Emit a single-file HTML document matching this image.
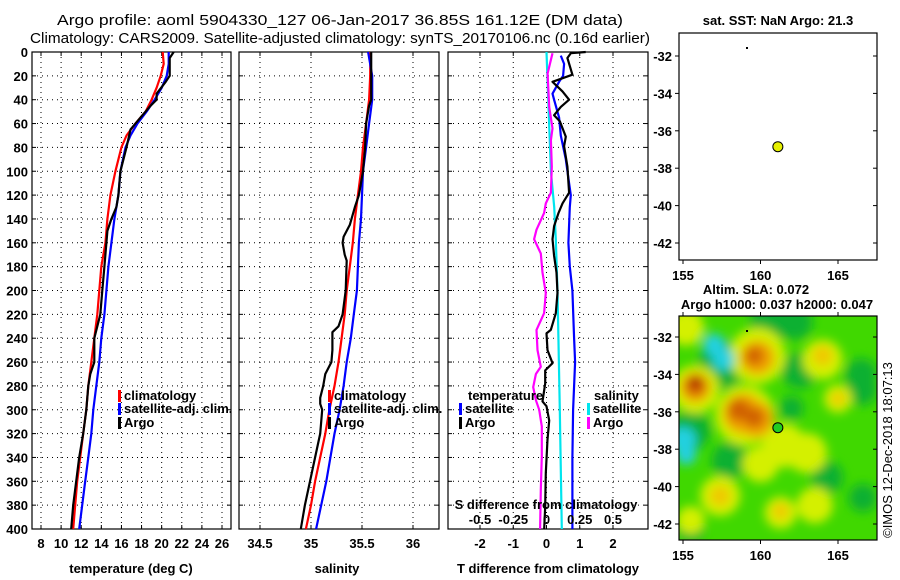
<!DOCTYPE html>
<html><head><meta charset="utf-8">
<style>
html,body{margin:0;padding:0;background:#fff;}
svg{display:block;font-family:"Liberation Sans",sans-serif;}
text{font-weight:bold;font-size:13px;fill:#000;}
</style></head>
<body>
<svg id="fig" width="900" height="580" viewBox="0 0 900 580" xmlns="http://www.w3.org/2000/svg">
<defs>
<filter id="blur" x="-50%" y="-50%" width="200%" height="200%"><feGaussianBlur stdDeviation="5"/></filter>
<clipPath id="map2clip"><rect x="679" y="316" width="198" height="224"/></clipPath>
</defs>
<text x="57" y="25" style="font-weight:normal;font-size:15px" textLength="566" lengthAdjust="spacingAndGlyphs">Argo profile: aoml 5904330_127 06-Jan-2017 36.85S 161.12E (DM data)</text>
<text x="30" y="43" style="font-weight:normal;font-size:15px" textLength="620" lengthAdjust="spacingAndGlyphs">Climatology: CARS2009. Satellite-adjusted climatology: synTS_20170106.nc (0.16d earlier)</text>
<g id="plots"></g>
</svg>
<script>
// ---- data ----
const tDepth = [0,10,20,30,40,50,60,70,80,100,120,140,160,180,200,220,240,260,280,300,320,340,360,380,400];
const tClim  = [20.1,20.2,19.9,19.5,19.0,18.4,17.4,16.5,16.0,15.4,14.9,14.6,14.4,14.0,13.8,13.6,13.3,13.0,12.7,12.5,12.2,11.9,11.6,11.4,11.2];
const tSat   = [20.7,20.7,20.5,20.0,19.3,18.5,17.6,16.9,16.4,15.9,15.7,15.3,15.0,14.7,14.5,14.3,14.0,13.8,13.5,13.2,13.0,12.7,12.4,12.1,11.8];
const argoTDepth = [0,5,20,25,35,40,45,55,65,80,100,120,130,140,150,160,180,200,220,230,240,260,270,280,300,320,340,360,380,400];
const argoT      = [21.2,20.8,20.8,20.4,19.5,19.5,18.9,17.9,16.9,16.5,15.9,15.7,15.5,15.0,14.6,14.5,14.3,14.1,13.9,13.6,13.3,13.3,12.9,12.7,12.5,12.2,11.8,11.5,11.2,11.0];
const sDepth = [0,20,40,60,80,100,120,140,160,180,200,220,240,260,280,300,320,340,360,380,400];
const sClim  = [35.58,35.58,35.57,35.54,35.51,35.49,35.46,35.43,35.41,35.38,35.35,35.33,35.30,35.27,35.23,35.18,35.14,35.09,35.04,35.00,34.95];
const sSat   = [35.56,35.60,35.60,35.57,35.54,35.51,35.50,35.49,35.47,35.46,35.45,35.42,35.39,35.35,35.32,35.28,35.23,35.19,35.15,35.10,35.05];
const argoSDepth = [0,20,40,45,60,80,100,120,130,145,155,160,170,175,200,220,230,235,250,260,270,280,290,295,300,320,340,360,380,400];
const argoS      = [35.59,35.59,35.59,35.57,35.54,35.53,35.51,35.47,35.43,35.38,35.32,35.31,35.33,35.35,35.34,35.31,35.27,35.21,35.21,35.20,35.14,35.12,35.09,35.09,35.11,35.09,35.04,34.99,34.94,34.90];
const dTSatDepth = [3,10,20,25,35,40,55,70,90,110,120,130,160,180,200,240,260,280,300,340,400];
const dTSat      = [0.43,0.53,0.50,0.38,0.18,0.23,0.38,0.43,0.58,0.68,0.73,0.70,0.66,0.70,0.78,0.83,0.86,0.83,0.80,0.78,0.78];
const dTArgoDepth = [0,1,5,19,25,33,40,46,53,58,71,79,96,118,127,135,146,157,171,185,202,219,233,236,250,261,267,278,293,297,309,325,353,381,400];
const dTArgo      = [1.18,0.73,0.63,0.78,0.18,0.48,0.68,0.43,0.23,0.40,0.58,0.53,0.63,0.68,0.48,0.36,0.23,0.18,0.23,0.30,0.33,0.28,0.13,0.00,0.03,0.18,-0.04,-0.04,-0.12,0.00,0.08,0.03,-0.02,-0.04,-0.07];
const dSSatDepth = [0,100,130,157,200,300,400];
const dSSat      = [0.0,0.033,0.058,0.07,0.083,0.10,0.115];
const dSArgoDepth = [1,18,46,64,74,96,118,127,135,149,157,169,185,202,219,233,250,264,270,281,292,300,314,339,367,400];
const dSArgo      = [0.045,0.008,0.02,0.045,0.033,0.04,0.033,-0.005,-0.018,-0.075,-0.093,-0.043,-0.03,-0.005,-0.018,-0.075,-0.068,-0.043,-0.08,-0.10,-0.08,-0.055,-0.035,-0.035,-0.043,-0.048];
const depthTicks = [0,20,40,60,80,100,120,140,160,180,200,220,240,260,280,300,320,340,360,380,400];
const tTicks = [8,10,12,14,16,18,20,22,24,26];
const sTicks = [34.5,35,35.5,36];
const dTTicks = [-2,-1,0,1,2];
const dSTicks = [-0.5,-0.25,0,0.25,0.5];
const lonTicks = [155,160,165];
const latTicks = [-32,-34,-36,-38,-40,-42];
const argoLon = 161.12, argoLat = -36.85;
// SLA field approximated as smooth anomaly blobs (drawn in order)
const blobLon = [157.5,155.5,160.6,162.2,162.5,166.5,166.5,164.3,166.6,158.0,155.5,162.0,
                 155.2,159.8,155.8,159.0,164.0,165.0,161.5,163.0,160.0,157.4,161.3,155.5,163.5,
                 159.8,155.8,158.9,159.7,164.0,165.0,157.4,161.3,
                 159.6,155.8,158.6,159.6,
                 155.8,
                 157.0,157.6,155.0,155.2];
const blobLat = [-33.5,-37.0,-31.2,-31.2,-33.8,-34.0,-34.8,-39.5,-40.6,-38.6,-42.3,-35.8,
                 -31.5,-33.0,-34.8,-36.2,-33.2,-35.3,-37.8,-38.2,-38.8,-40.5,-41.4,-41.8,-41.0,
                 -33.1,-34.7,-36.1,-36.4,-33.0,-35.3,-40.5,-41.3,
                 -33.0,-34.6,-35.9,-36.3,
                 -34.4,
                 -32.4,-33.2,-37.5,-38.3];
const blobLevel = [-1.5,-1.5,-1.5,-1.5,-1.5,-1.5,-1.5,-1.5,-1.5,-1.5,-1.5,-1.5,
                   1,1,1,1,1,1,1,1,1,1,1,1,1,
                   3,3,3,3,2,2,2,2,
                   4,4,4,4,
                   5,
                   -3,-3,-3,-3];
const blobR = [24,20,20,18,18,16,16,16,14,18,14,12,
               18,28,24,30,20,14,22,20,18,20,16,14,18,
               17,15,20,18,10,7,10,8,
               9,10,11,10,
               6,
               11,11,13,10];

// ---- helpers ----
const NS='http://www.w3.org/2000/svg';
const root=document.getElementById('plots');
function mk(tag,attrs,parent){const e=document.createElementNS(NS,tag);for(const k in attrs)e.setAttribute(k,attrs[k]);(parent||root).appendChild(e);return e;}
function txt(x,y,s,anchor,parent){const e=mk('text',{x:x,y:y,'text-anchor':anchor||'middle'},parent);e.textContent=s;return e;}
const Y0=52, Y1=529;
const yD=d=>Y0+(Y1-Y0)*d/400;
function lin(d0,d1,r0,r1){return v=>r0+(v-d0)*(r1-r0)/(d1-d0);}
const xT=lin(8,26,41,222), xS=lin(34.5,36,260,413), xDT=lin(-2,2,480,613), xDS=lin(-0.5,0.5,480,613);
const mLon=lin(155,165,683,838), m1Lat=lin(-32,-42,56,243), m2Lat=lin(-32,-42,337,524);

function panel(name,x0,x1,xticks,xf,labelFmt,leftLabels){
  const g=mk('g',{});
  
  
  depthTicks.forEach(d=>{
    const y=yD(d);
    if(d>0&&d<400){const l=mk('line',{x1:x0,x2:x1,y1:y,y2:y,stroke:'#000','stroke-width':1,'stroke-dasharray':'1,4'},g);
      
      }
    mk('line',{x1:x0,x2:x0+4,y1:y,y2:y,stroke:'#000'},g);
    mk('line',{x1:x1-4,x2:x1,y1:y,y2:y,stroke:'#000'},g);
    if(leftLabels){const t=txt(x0-4,y+5,String(d),'end',g);
      
      }
  });
  xticks.forEach(v=>{
    const x=xf(v);
    const l=mk('line',{x1:x,x2:x,y1:Y0,y2:Y1,stroke:'#000','stroke-width':1,'stroke-dasharray':'1,4'},g);
    
    
    mk('line',{x1:x,x2:x,y1:Y1,y2:Y1-4,stroke:'#000'},g);
    mk('line',{x1:x,x2:x,y1:Y0,y2:Y0+4,stroke:'#000'},g);
    const t=txt(x,Y1+19,labelFmt(v),'middle',g);
    
    
  });
  const r=mk('rect',{x:x0,y:Y0,width:x1-x0,height:Y1-Y0,fill:'none',stroke:'#000','stroke-width':1.2},g);
  
  
  return g;
}
function line(depths,vals,xf,color,name,w){
  const pts=depths.map((d,i)=>xf(vals[i]).toFixed(1)+','+yD(d).toFixed(1)).join(' ');
  const p=mk('polyline',{points:pts,fill:'none',stroke:color,'stroke-width':w||2.2,'stroke-linejoin':'round'});
  
  
}
function legend(x,y,color,label,name){
  const g=mk('g',{});
  
  
  mk('rect',{x:x,y:y-10,width:3,height:12,fill:color},g);
  txt(x+6,y,label,'start',g);
}

// Panel 1: temperature
panel('temperature-panel',32,231,tTicks,xT,v=>String(v),true);
line(tDepth,tClim,xT,'#ff0000','temp-climatology-line');
line(tDepth,tSat,xT,'#0000ff','temp-satellite-line');
line(argoTDepth,argoT,xT,'#000','temp-argo-line');
let t=txt(131,573,'temperature (deg C)');


legend(118,400,'#ff0000','climatology','legend-climatology');
legend(118,413,'#0000ff','satellite-adj. clim.','legend-satellite-adj');
legend(118,427,'#000','Argo','legend-argo');

// Panel 2: salinity
panel('salinity-panel',239,439,sTicks,xS,v=>String(v),false);
line(sDepth,sClim,xS,'#ff0000','sal-climatology-line');
line(sDepth,sSat,xS,'#0000ff','sal-satellite-line');
line(argoSDepth,argoS,xS,'#000','sal-argo-line');
t=txt(337,573,'salinity');


legend(328,400,'#ff0000','climatology','legend-climatology-2');
legend(328,413,'#0000ff','satellite-adj. clim.','legend-satellite-adj-2');
legend(328,427,'#000','Argo','legend-argo-2');

// Panel 3: differences
panel('difference-panel',448,648,dTTicks,xDT,v=>String(v),false);
line(dSSatDepth,dSSat,xDS,'#00e5ee','sal-diff-satellite-line');
line(dSArgoDepth,dSArgo,xDS,'#ff00ff','sal-diff-argo-line');
line(dTSatDepth,dTSat,xDT,'#0000ff','temp-diff-satellite-line');
line(dTArgoDepth,dTArgo,xDT,'#000','temp-diff-argo-line');
dSTicks.forEach(v=>{const e=txt(xDS(v),524,String(v));
  
  });
t=txt(546,509,'S difference from climatology');


t=txt(548,573,'T difference from climatology');


t=txt(468,400,'temperature','start');


legend(459,413,'#0000ff','satellite','legend-temp-satellite');
legend(459,427,'#000','Argo','legend-temp-argo');
t=txt(594,400,'salinity','start');


legend(587,413,'#00e5ee','satellite','legend-sal-satellite');
legend(587,427,'#ff00ff','Argo','legend-sal-argo');

// Maps
function mapAxes(name,y0,y1,latF,topTicks){
  const g=mk('g',{});
  
  
  latTicks.forEach(v=>{const y=latF(v);
    mk('line',{x1:679,x2:675,y1:y,y2:y,stroke:'#000'},g);
    mk('line',{x1:877,x2:873,y1:y,y2:y,stroke:'#000'},g);
    const e=txt(672,y+5,String(v),'end',g);
    
    });
  lonTicks.forEach(v=>{const x=mLon(v);
    mk('line',{x1:x,x2:x,y1:y1,y2:y1+4,stroke:'#000'},g);
    if(topTicks)mk('line',{x1:x,x2:x,y1:y0,y2:y0-4,stroke:'#000'},g);
    const e=txt(x,y1+20,String(v),'middle',g);
    
    });
  return g;
}
// map 1
let r=mk('rect',{x:679,y:33,width:198,height:227,fill:'#fff',stroke:'#000','stroke-width':1.2});


mapAxes('sst-map-axes',33,260,m1Lat,false);
t=txt(778,25,'sat. SST: NaN Argo: 21.3');


mk('rect',{x:746,y:47,width:2,height:2,fill:'#000'});
let c=mk('circle',{cx:mLon(argoLon),cy:m1Lat(argoLat),r:5,fill:'#e6f000',stroke:'#000','stroke-width':1});



// map 2 heatmap
const colorFor=l=>l<=-3?'#20d0e0':l<=-1.5?'#10b030':l<1?'#50d800':l<2?'#d4f000':l<3?'#f0c800':l<4?'#f0a000':l<5?'#d06000':'#a82000';
const hm=mk('g',{'clip-path':'url(#map2clip)'});


mk('rect',{x:679,y:316,width:198,height:224,fill:'#40d800'},hm);
const bg=mk('g',{filter:'url(#blur)'},hm);
blobLon.forEach((lon,i)=>{
  const e=mk('circle',{cx:mLon(lon),cy:m2Lat(blobLat[i]),r:blobR[i],fill:colorFor(blobLevel[i])},bg);
  
  
});
r=mk('rect',{x:679,y:316,width:198,height:224,fill:'none',stroke:'#000','stroke-width':1.2});


mapAxes('sla-map-axes',316,540,m2Lat,true);
mk('rect',{x:746,y:330,width:2,height:2,fill:'#000'});
c=mk('circle',{cx:mLon(argoLon),cy:m2Lat(argoLat),r:5,fill:'#22cc22',stroke:'#000','stroke-width':1});


t=txt(756,294,'Altim. SLA: 0.072');


t=txt(777,309,'Argo h1000: 0.037 h2000: 0.047');


t=mk('text',{x:0,y:0,'text-anchor':'middle',transform:'translate(892,450) rotate(-90)',style:'font-weight:normal;font-size:13px'});
t.textContent='©IMOS 12-Dec-2018 18:07:13';


</script>
</body></html>
